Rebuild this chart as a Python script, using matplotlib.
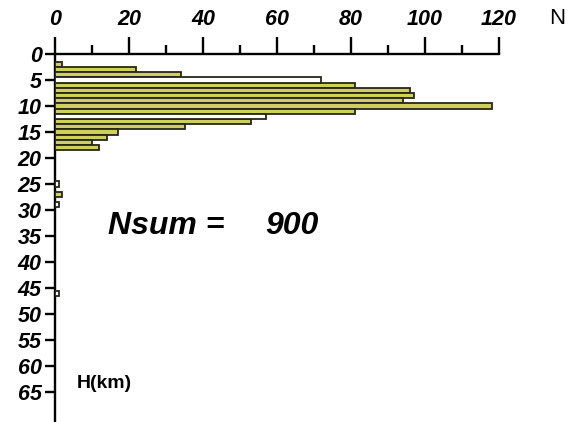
import matplotlib
matplotlib.use("Agg")
import matplotlib.pyplot as plt
from matplotlib.ticker import MultipleLocator

# Event counts per depth (km) – filled (yellow) bars
depth_filled = [2, 3, 4, 6, 7, 8, 9, 10, 11, 13, 14, 15, 16, 17, 18, 27]
count_filled = [2, 22, 34, 81, 96, 97, 94, 118, 81, 53, 35, 17, 14, 10, 12, 2]
# Event counts per depth (km) – open (white) bars
depth_open = [5, 12, 25, 29, 46]
count_open = [72, 57, 1, 1, 1]

x_ticks = [0, 20, 40, 60, 80, 100, 120]
y_ticks = [0, 5, 10, 15, 20, 25, 30, 35, 40, 45, 50, 55, 60, 65]
n_sum = sum(count_filled) + sum(count_open)

plt.rcParams['font.family'] = ['Liberation Sans', 'DejaVu Sans']

W, H = 569, 422
fig = plt.figure(figsize=(W / 100, H / 100), dpi=100)
x0, x1 = 55, 499
y0 = 54
ax = fig.add_axes([x0 / W, 0, (x1 - x0) / W, 1 - y0 / H])

ax.barh(depth_filled, count_filled, height=1.0, color='#cfcf5c',
        edgecolor='#26261a', linewidth=1.3, align='center', zorder=3)
ax.barh(depth_open, count_open, height=1.0, color='white',
        edgecolor='#26261a', linewidth=1.3, align='center', zorder=3)

ax.set_xlim(0, 120)
ax.set_ylim((H - y0) / 5.2, 0)

for s in ['right', 'bottom']:
    ax.spines[s].set_visible(False)
for s in ['left', 'top']:
    ax.spines[s].set_linewidth(1.7)
    ax.spines[s].set_color('black')

ax.xaxis.tick_top()
ax.set_xticks(x_ticks)
ax.xaxis.set_minor_locator(MultipleLocator(10))
ax.set_yticks(y_ticks)
ax.tick_params(axis='x', which='major', direction='out', length=12, width=1.7,
               pad=5, labelsize=15.5)
ax.tick_params(axis='x', which='minor', direction='out', length=6.5, width=1.7)
ax.tick_params(axis='y', which='major', direction='out', length=7.5, width=1.7,
               pad=2, labelsize=15.5)
for lab in ax.get_xticklabels() + ax.get_yticklabels():
    lab.set_fontstyle('italic')
    lab.set_fontweight('bold')

fig.text(557 / W, 1 - 19 / H, 'N', fontsize=16, ha='center', va='center')
fig.text(108 / W, 1 - 226 / H, 'Nsum =', fontsize=23, fontweight='bold',
         fontstyle='italic', ha='left', va='center')
fig.text(265 / W, 1 - 226 / H, f'{n_sum}', fontsize=23, fontweight='bold',
         fontstyle='italic', ha='left', va='center')
fig.text(77 / W, 1 - 384 / H, 'H(km)', fontsize=14, fontweight='bold',
         ha='left', va='center')

fig.savefig('out.png', dpi=100)
